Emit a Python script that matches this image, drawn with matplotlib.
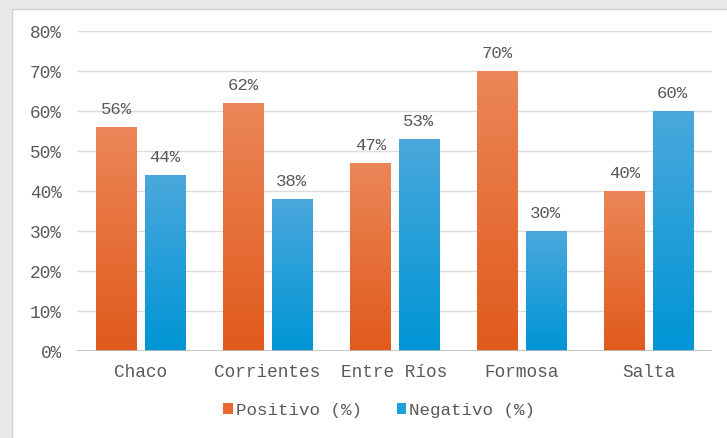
import matplotlib
matplotlib.use("Agg")
import matplotlib.pyplot as plt
import numpy as np
from matplotlib.patches import Rectangle, Patch
from matplotlib.colors import LinearSegmentedColormap

categories = ["Chaco", "Corrientes", "Entre Ríos", "Formosa", "Salta"]
positivo = [56, 62, 47, 70, 40]
negativo = [44, 38, 53, 30, 60]
yticks = [0, 10, 20, 30, 40, 50, 60, 70, 80]
series_names = ["Positivo (%)", "Negativo (%)"]

W, H = 727, 439
fig = plt.figure(figsize=(W / 100, H / 100), dpi=100)
fig.patch.set_facecolor("#E9E9E9")

# white panel
panel = Rectangle((12 / W, -0.01), 1, 1.01 - 10 / H, transform=fig.transFigure,
                  facecolor="white", edgecolor="#CFCFCF", linewidth=1.0, zorder=-5)
fig.patches.append(panel)

ax = fig.add_axes([77 / W, 1 - 352 / H, (712 - 77) / W, (352 - 32) / H], zorder=1)
ax.set_facecolor("none")

font = "Liberation Mono"
tcol = "#595959"

x = np.arange(len(categories))
bw = 0.315
off = 0.19
b1 = ax.bar(x - off, positivo, bw, color="#E86A30", zorder=2)
b2 = ax.bar(x + off, negativo, bw, color="#1CA0DA", zorder=2)

cm_o = LinearSegmentedColormap.from_list("o", ["#E05A1C", "#EC8658"])
cm_b = LinearSegmentedColormap.from_list("b", ["#0095D5", "#4AA8DC"])
grad = np.linspace(0, 1, 256).reshape(-1, 1)
for bars, cm in ((b1, cm_o), (b2, cm_b)):
    for r in bars:
        x0, y0 = r.get_x(), r.get_y()
        w, h = r.get_width(), r.get_height()
        im = ax.imshow(grad, extent=[x0, x0 + w, y0, y0 + h], origin="lower",
                       aspect="auto", cmap=cm, zorder=2.5)
        im.set_clip_path(r)
        r.set_facecolor("none")

for bars, vals in ((b1, positivo), (b2, negativo)):
    for r, v in zip(bars, vals):
        ax.annotate(f"{v}%", (r.get_x() + r.get_width() / 2, v), xytext=(0, 8),
                    textcoords="offset points", ha="center", va="bottom",
                    fontsize=12.5, family=font, color=tcol)

ax.set_xlim(-0.5, len(categories) - 0.5)
ax.set_ylim(0, 80)
ax.set_yticks(yticks)
ax.set_yticklabels([f"{t}%" for t in yticks], family=font, fontsize=12.8, color=tcol)
ax.set_xticks(x)
ax.set_xticklabels(categories, family=font, fontsize=12.8, color=tcol)
ax.tick_params(length=0, pad=11)
ax.tick_params(axis="x", pad=9)
for s in ax.spines.values():
    s.set_visible(False)
ax.grid(axis="y", color="#DCDCDC", linewidth=1, zorder=0)
ax.axhline(0, color="#BFBFBF", linewidth=1.2, zorder=3)

handles = [Patch(facecolor="#E86A30"), Patch(facecolor="#1CA0DA")]
leg = fig.legend(handles, series_names, loc="center", bbox_to_anchor=(379 / W, 1 - 411 / H),
                 ncol=2, frameon=False, prop={"family": font, "size": 12.6},
                 handlelength=0.55, handleheight=0.55, handletextpad=0.15, columnspacing=2.0)
for t in leg.get_texts():
    t.set_color(tcol)

fig.savefig("out.png", dpi=100)
